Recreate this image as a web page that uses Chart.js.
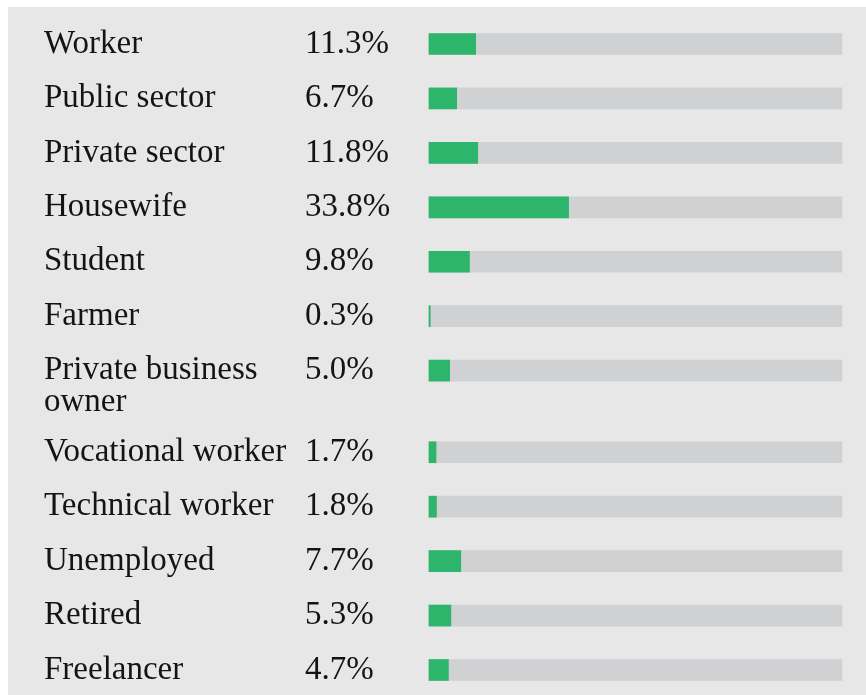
<!DOCTYPE html>
<html>
<head>
<meta charset="utf-8">
<script src="https://cdn.jsdelivr.net/npm/chart.js@4"></script>
<style>
  body { margin: 0; background: #fff; }
  #panel { position: absolute; left: 8px; top: 7px; width: 858px; height: 688px; background: #e6e7e6; }
  #wrap { position: absolute; left: 0; top: 0; width: 866px; height: 695px; }
</style>
</head>
<body>
<div id="panel"></div>
<div id="wrap"><canvas id="myChart"></canvas></div>
<script>
// occupation shares, percent of respondents
const categories = [
    ['Worker'],
    ['Public sector'],
    ['Private sector'],
    ['Housewife'],
    ['Student'],
    ['Farmer'],
    ['Private business', 'owner'],
    ['Vocational worker'],
    ['Technical worker'],
    ['Unemployed'],
    ['Retired'],
    ['Freelancer']
];
const shares = [11.3, 6.7, 11.8, 33.8, 9.8, 0.3, 5.0, 1.7, 1.8, 7.7, 5.3, 4.7];
const scaleMax = 100;

// row positions: one unit per row, half a unit more after a two line label
var rowPos = [];
var p = 0;
for (let i = 0; i < categories.length; i++) {
    rowPos.push(p);
    p += 1 + (categories[i].length - 1) * 0.5;
}
const lastPos = rowPos[rowPos.length - 1];

var greenData = [];
var trackData = [];
for (let i = 0; i < categories.length; i++) {
    greenData.push({ x: shares[i], y: rowPos[i] });
    trackData.push({ x: scaleMax, y: rowPos[i] });
}

const labelPlugin = {
    id: 'rowLabels',
    afterDatasetsDraw(chart) {
        const ctx = chart.ctx;
        const y = chart.scales.y;
        ctx.save();
        ctx.fillStyle = '#141414';
        ctx.font = '33px "Liberation Serif", "Times New Roman", serif';
        ctx.textAlign = 'left';
        ctx.textBaseline = 'middle';
        for (let i = 0; i < categories.length; i++) {
            const py = y.getPixelForValue(rowPos[i]);
            categories[i].forEach(function (line, k) {
                ctx.fillText(line, 44, py + k * 32);
            });
            ctx.fillText(shares[i].toFixed(1) + '%', 305, py);
        }
        ctx.restore();
    }
};

var myChart = new Chart('myChart', {
    type: 'bar',
    data: {
        datasets: [{
            data: greenData,
            backgroundColor: '#2db56c',
            barThickness: 21,
            grouped: false,
            order: 0,
            clip: false
        }, {
            data: trackData,
            backgroundColor: '#d0d1d3',
            barThickness: 21,
            grouped: false,
            order: 1,
            clip: false
        }]
    },
    options: {
        indexAxis: 'y',
        responsive: true,
        maintainAspectRatio: false,
        animation: false,
        layout: { padding: { left: 429, right: 24, top: 44, bottom: 25 } },
        scales: {
            x: { type: 'linear', min: 0, max: scaleMax, display: false },
            y: { type: 'linear', min: 0, max: lastPos, reverse: true, offset: false, display: false }
        },
        plugins: {
            legend: { display: false },
            tooltip: { enabled: false }
        }
    },
    plugins: [labelPlugin]
});
</script>
</body>
</html>
